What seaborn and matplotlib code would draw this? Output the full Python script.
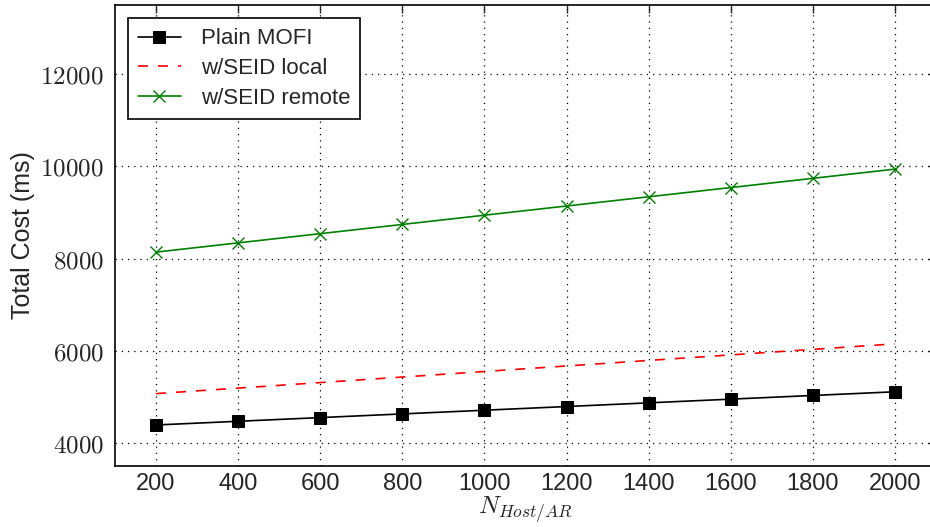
import numpy as np
import pandas as pd
import matplotlib
matplotlib.use('Agg')
import matplotlib.pyplot as plt
import seaborn as sns
from matplotlib.ticker import FuncFormatter

# datos
n_host = [200, 400, 600, 800, 1000, 1200, 1400, 1600, 1800, 2000]
plain_mofi = [4390, 4470, 4550, 4630, 4710, 4790, 4870, 4950, 5030, 5110]
seid_local = [5070, 5190, 5310, 5430, 5550, 5670, 5790, 5910, 6030, 6150]
seid_remote = [8140, 8340, 8540, 8740, 8940, 9140, 9340, 9540, 9740, 9940]

df = pd.DataFrame({'n': n_host, 'plain': plain_mofi, 'local': seid_local, 'remote': seid_remote})

sns.set_style('white')
plt.rcParams['font.family'] = ['Liberation Sans', 'DejaVu Sans']
plt.rcParams['mathtext.fontset'] = 'cm'

fig = plt.figure(figsize=(9.3, 5.27), dpi=100)
ax = fig.add_axes([115 / 930, 1 - 466 / 527, (936 - 115) / 930, (466 - 5) / 527])

sns.lineplot(data=df, x='n', y='plain', ax=ax, color='black', marker='s', markersize=8,
             markeredgecolor='black', linewidth=1.2)
sns.lineplot(data=df, x='n', y='local', ax=ax, color='red', linewidth=1.2)
sns.lineplot(data=df, x='n', y='remote', ax=ax, color='green', marker='x', markersize=8,
             markeredgecolor='green', markeredgewidth=1.0, linewidth=1.2)

lines = ax.get_lines()
lines[1].set_linestyle((0, (6, 6)))

ax.set_xlim(100, 2100)
ax.set_ylim(3500, 13500)
ax.set_xticks(n_host)
ax.set_yticks([4000, 6000, 8000, 10000, 12000])
ax.yaxis.set_major_formatter(FuncFormatter(lambda v, p: r'$%d$' % v))

ax.grid(True, color='black', linestyle=(0, (1, 4)), linewidth=0.9)
ax.tick_params(direction='in', length=6, width=1, top=True, right=True)
ax.tick_params(axis='x', pad=5, labelsize=17)
ax.tick_params(axis='y', pad=8, labelsize=18)
for s in ax.spines.values():
    s.set_color('black')
    s.set_linewidth(1.2)

ax.set_xlabel(r'$N_{Host/AR}$', fontsize=18, labelpad=0)
ax.set_ylabel('Total Cost (ms)', fontsize=18)

leg = ax.legend(lines[:3], ['Plain MOFI', 'w/SEID local', 'w/SEID remote'], loc='upper left',
                fontsize=16, frameon=True, fancybox=False, handlelength=1.9,
                borderpad=0.45, labelspacing=0.4, handletextpad=0.9, borderaxespad=0.6)
leg.get_frame().set_edgecolor('black')
leg.get_frame().set_linewidth(1.2)
leg.get_frame().set_alpha(1)

plt.savefig('out.png', dpi=100)
